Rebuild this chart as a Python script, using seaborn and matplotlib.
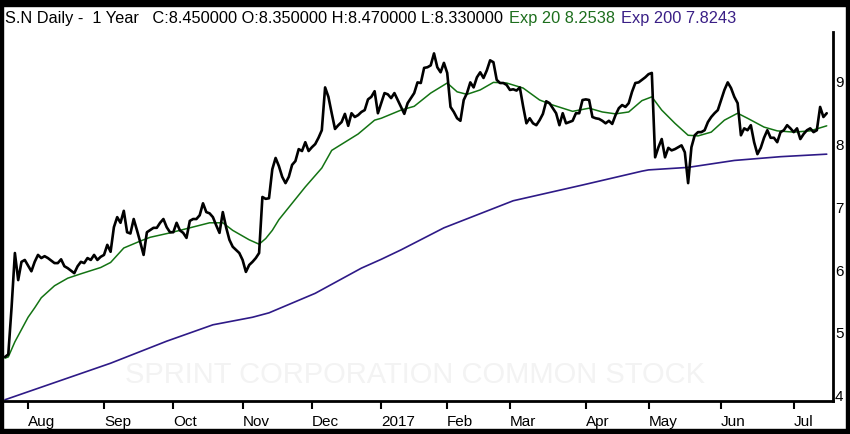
import numpy as np
import pandas as pd
import seaborn as sns
import matplotlib
matplotlib.use("Agg")
import matplotlib.pyplot as plt
from matplotlib.patches import Rectangle

# Daily closes (x = trading session number)
days = (list(range(0, 7)) + list(range(8, 14)) + list(range(15, 20))
        + list(range(21, 44)) + list(range(45, 250)))
close = [
    4.62, 4.66, 5.41, 6.27, 5.84, 6.13, 6.16,
    5.98, 6.13, 6.24, 6.19, 6.22, 6.19,
    6.11, 6.11, 6.17, 6.06, 6.03,
    5.95, 6.06, 6.13, 6.11, 6.19, 6.16, 6.24, 6.16, 6.21, 6.24, 6.40, 6.29,
    6.68, 6.84, 6.75, 6.94, 6.60, 6.58, 6.81, 6.63, 6.44, 6.24, 6.60,
    6.67, 6.67, 6.75, 6.81, 6.68, 6.60, 6.60, 6.75, 6.63, 6.59,
    6.51, 6.78, 6.81, 6.81, 6.87, 7.06, 6.92, 6.90, 6.84, 6.71,
    6.59, 6.92, 6.68, 6.48, 6.37, 6.32, 6.27, 6.16, 5.97, 6.08,
    6.13, 6.19, 6.27, 7.16, 7.13, 7.14, 7.60, 7.78, 7.65, 7.48,
    7.38, 7.48, 7.67, 7.73, 7.92, 7.89, 8.03, 7.89, 7.95, 8.00,
    8.10, 8.22, 8.90, 8.75, 8.49, 8.24, 8.30, 8.35, 8.48, 8.29,
    8.49, 8.43, 8.46, 8.51, 8.54, 8.71, 8.75, 8.84, 8.49, 8.65,
    8.81, 8.79, 8.73, 8.81, 8.70, 8.59, 8.48, 8.65, 8.73, 8.81,
    8.98, 8.97, 9.21, 9.22, 9.25, 9.44, 9.22, 9.14, 9.29, 9.13,
    8.59, 8.51, 8.41, 8.37, 8.70, 8.81, 8.98, 8.90, 9.06, 9.14,
    9.05, 9.17, 9.33, 9.30, 9.02, 8.97, 8.97, 8.94, 8.86, 8.87,
    8.85, 8.90, 8.60, 8.33, 8.41, 8.33, 8.30, 8.38, 8.48, 8.68,
    8.65, 8.57, 8.49, 8.30, 8.49, 8.33, 8.35, 8.37, 8.49, 8.49,
    8.70, 8.71, 8.70, 8.43, 8.41, 8.40, 8.37, 8.33, 8.37, 8.32,
    8.46, 8.57, 8.62, 8.59, 8.65, 8.83, 8.97, 8.98, 9.02, 9.06,
    9.11, 9.13, 7.79, 7.95, 8.08, 7.79, 7.94, 7.90, 7.92, 7.95,
    7.98, 7.87, 7.38, 7.95, 8.14, 8.19, 8.19, 8.22, 8.35, 8.43,
    8.49, 8.54, 8.70, 8.86, 8.98, 8.89, 8.75, 8.65, 8.14, 8.25,
    8.22, 8.30, 8.03, 7.84, 7.94, 8.10, 8.22, 8.10, 8.10, 8.03,
    8.19, 8.22, 8.30, 8.25, 8.19, 8.25, 8.08, 8.16, 8.22, 8.25,
    8.19, 8.22, 8.59, 8.43, 8.49,
]
assert len(days) == len(close)

# Exp 20 line
ema20_day = [0, 1, 3, 7, 9, 11, 15, 19, 23, 29, 32, 36, 41, 44, 50, 56, 62, 66,
             69, 74, 77, 79, 81, 83, 87, 91, 96, 99, 103, 107, 112, 114, 120,
             124, 129, 134, 137, 140, 144, 148, 152, 157, 162, 166, 172, 177,
             181, 185, 189, 193, 196, 199, 203, 207, 210, 214, 218, 222, 225,
             230, 234, 239, 244, 249]
ema20_val = [4.60, 4.62, 4.86, 5.25, 5.40, 5.56, 5.75, 5.87, 5.94, 6.04, 6.12,
             6.35, 6.46, 6.52, 6.59, 6.67, 6.75, 6.75, 6.63, 6.48, 6.41, 6.50,
             6.63, 6.80, 7.06, 7.32, 7.62, 7.90, 8.03, 8.16, 8.38, 8.41, 8.54,
             8.60, 8.81, 8.97, 8.83, 8.79, 8.86, 8.98, 8.97, 8.89, 8.70, 8.62,
             8.52, 8.57, 8.51, 8.48, 8.51, 8.69, 8.75, 8.54, 8.33, 8.14, 8.13,
             8.19, 8.38, 8.49, 8.41, 8.27, 8.21, 8.19, 8.21, 8.29]

# Exp 200 line
ema200_day = [0, 32, 49, 63, 75, 80, 94, 108, 114, 120, 133, 154, 175, 193,
              195, 207, 221, 235, 249]
ema200_val = [3.94, 4.52, 4.87, 5.13, 5.25, 5.32, 5.63, 6.03, 6.17, 6.32, 6.67,
              7.10, 7.35, 7.57, 7.59, 7.63, 7.74, 7.80, 7.84]

# first session of each month
month_pos = [7, 30, 51, 72, 93, 114, 134, 153, 176, 195, 217, 239]
month_labels = ["Aug", "Sep", "Oct", "Nov", "Dec", "2017", "Feb", "Mar",
                "Apr", "May", "Jun", "Jul"]

header_parts = [
    ("S.N Daily -  1 Year   C:8.450000 O:8.350000 H:8.470000 L:8.330000", "black"),
    ("Exp 20 8.2538", "#1d6e1d"),
    ("Exp 200 7.8243", "#3a1f86"),
]

sns.set_theme(style="white")
plt.rcParams["font.family"] = ["Liberation Sans", "DejaVu Sans"]

fig = plt.figure(figsize=(8.5, 4.34), dpi=100)
fig.patch.set_facecolor("white")
ax = fig.add_axes([4 / 850, 1 - 401 / 434, 829 / 850, 369 / 434])

sns.lineplot(x=ema200_day, y=ema200_val, color="#2e1a87", linewidth=1.2, ax=ax)
sns.lineplot(x=ema20_day, y=ema20_val, color="#137313", linewidth=1.1, ax=ax)
sns.lineplot(x=days, y=close, color="black", linewidth=1.9, ax=ax)

ax.set_xlim(-0.3, 250.9)
ax.set_ylim(3.92, 9.78)
ax.set_xlabel("")
ax.set_ylabel("")
ax.grid(False)

ax.yaxis.tick_right()
ax.set_yticks([4, 5, 6, 7, 8, 9])
ax.tick_params(axis="y", length=0, pad=1.5, labelsize=11, colors="black")
ax.set_xticks(month_pos)
ax.set_xticklabels(month_labels, ha="left")
ax.tick_params(axis="x", length=6, width=1.5, direction="out", pad=4,
               labelsize=11, colors="black", bottom=True)

for side in ["left", "top"]:
    ax.spines[side].set_visible(False)
for side in ["right", "bottom"]:
    ax.spines[side].set_visible(True)
    ax.spines[side].set_color("black")
    ax.spines[side].set_linewidth(2)

ax.text(0.496, 0.07, "SPRINT CORPORATION COMMON STOCK", transform=ax.transAxes,
        ha="center", va="center", fontsize=21, color="#f3f3f3", zorder=0)

# header line with coloured parts
renderer = fig.canvas.get_renderer()
x = 5 / 850
for txt, col in header_parts:
    t = fig.text(x, 1 - 18 / 434, txt, color=col, fontsize=11.8,
                 ha="left", va="center")
    bb = t.get_window_extent(renderer=renderer)
    x = (bb.x1 + 6) / fig.bbox.width

# black frame around the picture
for (x0, y0, w, h) in [(0, 1 - 6 / 434, 1, 6 / 434), (0, 0, 1, 5 / 434),
                       (0, 0, 3 / 850, 1), (1 - 4 / 850, 0, 4 / 850, 1)]:
    fig.add_artist(Rectangle((x0, y0), w, h, transform=fig.transFigure,
                             color="black", zorder=10))

fig.savefig("out.png", dpi=100)
